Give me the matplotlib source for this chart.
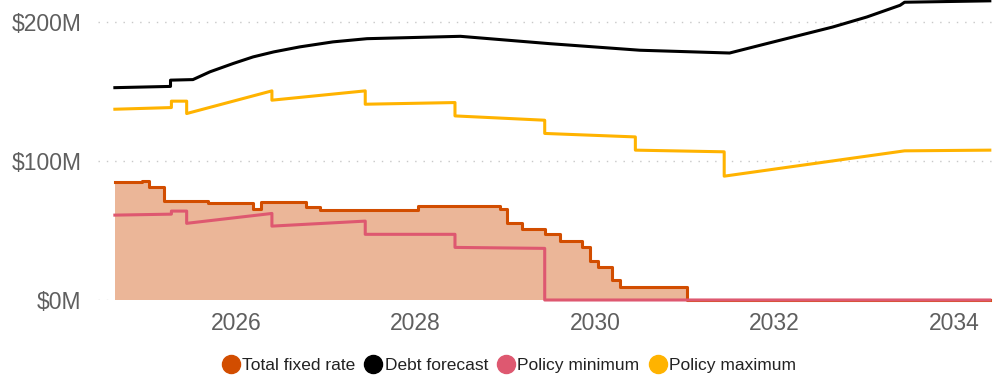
import matplotlib
matplotlib.use("Agg")
import matplotlib.pyplot as plt
from matplotlib.lines import Line2D

# ─────────────────────────────────────────────
# DATA  (years as decimals, values in $M)
# ─────────────────────────────────────────────

debt_x = [2024.65, 2025.27, 2025.27, 2025.52, 2025.71, 2025.97, 2026.19, 2026.42,
          2026.71, 2027.08, 2027.46, 2028.50, 2029.50, 2030.50, 2031.50, 2031.91,
          2032.28, 2032.65, 2033.03, 2033.40, 2033.45, 2034.40]
debt_y = [152.6, 153.5, 158.0, 158.4, 164.0, 170.0, 174.7, 178.3,
          181.9, 185.5, 187.8, 189.5, 184.2, 179.5, 177.5, 184.2,
          190.2, 196.2, 203.4, 211.8, 214.0, 215.0]

max_x = [2024.65, 2025.28, 2025.28, 2025.45, 2025.45, 2026.40, 2026.40, 2027.44,
         2027.44, 2028.44, 2028.44, 2029.44, 2029.44, 2030.45, 2030.45, 2031.44,
         2031.44, 2033.45, 2034.40]
max_y = [137.1, 138.3, 142.9, 142.9, 134.0, 150.3, 143.6, 150.3,
         140.7, 141.9, 132.3, 129.2, 119.7, 117.2, 107.7, 106.5,
         89.0, 107.2, 107.7]

min_x = [2024.65, 2025.28, 2025.28, 2025.45, 2025.45, 2026.40, 2026.40, 2027.44,
         2027.44, 2028.44, 2028.44, 2029.44, 2029.44, 2034.40]
min_y = [61.0, 61.7, 63.9, 63.9, 55.1, 62.2, 53.1, 56.7,
         47.2, 47.2, 37.8, 37.1, 0.0, 0.0]

# total fixed rate is a step series (value holds until next date)
fixed_x = [2024.65, 2024.95, 2025.03, 2025.20, 2025.69, 2026.19, 2026.28, 2026.78,
           2026.94, 2028.03, 2028.94, 2029.02, 2029.19, 2029.44, 2029.61, 2029.86,
           2029.94, 2030.03, 2030.19, 2030.28, 2031.03, 2034.40]
fixed_y = [84.5, 85.7, 81.4, 71.3, 69.6, 65.1, 70.6, 66.8,
           64.4, 67.3, 65.3, 55.5, 51.2, 47.4, 42.6, 38.3,
           28.0, 23.9, 14.4, 9.5, 0.0, 0.0]

x_ticks = [2026, 2028, 2030, 2032, 2034]
y_ticks = [0, 100, 200]
y_labels = ["$0M", "$100M", "$200M"]

series_names = ["Total fixed rate", "Debt forecast", "Policy minimum", "Policy maximum"]

# ─────────────────────────────────────────────
# STYLE
# ─────────────────────────────────────────────

C_FIXED = "#D24D00"
C_FILL  = "#EBB698"
C_DEBT  = "#000000"
C_MIN   = "#DE5870"
C_MAX   = "#FFB300"
LW      = 2.2

plt.rcParams["font.family"] = ["Liberation Sans", "DejaVu Sans"]

fig = plt.figure(figsize=(9.98, 3.79), dpi=100)
ax = fig.add_axes([98 / 998, 1 - 300 / 379, 899 / 998, 300 / 379])

ax.fill_between(fixed_x, fixed_y, 0, step="post", color=C_FILL, linewidth=0, zorder=1)
ax.step(fixed_x, fixed_y, where="post", color=C_FIXED, lw=LW, zorder=3, clip_on=False)
ax.plot(min_x, min_y, color=C_MIN, lw=LW, zorder=4, clip_on=False)
ax.plot(max_x, max_y, color=C_MAX, lw=LW, zorder=4, clip_on=False)
ax.plot(debt_x, debt_y, color=C_DEBT, lw=LW, zorder=5, clip_on=False)

ax.set_xlim(2024.462, 2034.48)
ax.set_ylim(0, 215.6)

for yv in y_ticks:
    ax.axhline(yv, color="#c8c8c8", lw=1, linestyle=(0, (1, 5)), zorder=0)

ax.set_xticks(x_ticks)
ax.set_xticklabels([str(t) for t in x_ticks])
ax.set_yticks(y_ticks)
ax.set_yticklabels(y_labels)
ax.tick_params(axis="both", length=0, labelsize=16.5, labelcolor="#5f5f5f")
ax.tick_params(axis="y", pad=12)
ax.tick_params(axis="x", pad=9)
for s in ax.spines.values():
    s.set_visible(False)

handles = [Line2D([], [], marker="o", linestyle="none", markersize=13,
                  markerfacecolor=c, markeredgecolor=c)
           for c in [C_FIXED, C_DEBT, C_MIN, C_MAX]]
fig.legend(handles, series_names, loc="center", bbox_to_anchor=(509 / 998, 1 - 365 / 379),
           ncol=4, frameon=False, fontsize=12.5, handlelength=1.0, handletextpad=0.15,
           columnspacing=0.55, borderpad=0, labelcolor="#222222")

fig.savefig("out.png", dpi=100)
